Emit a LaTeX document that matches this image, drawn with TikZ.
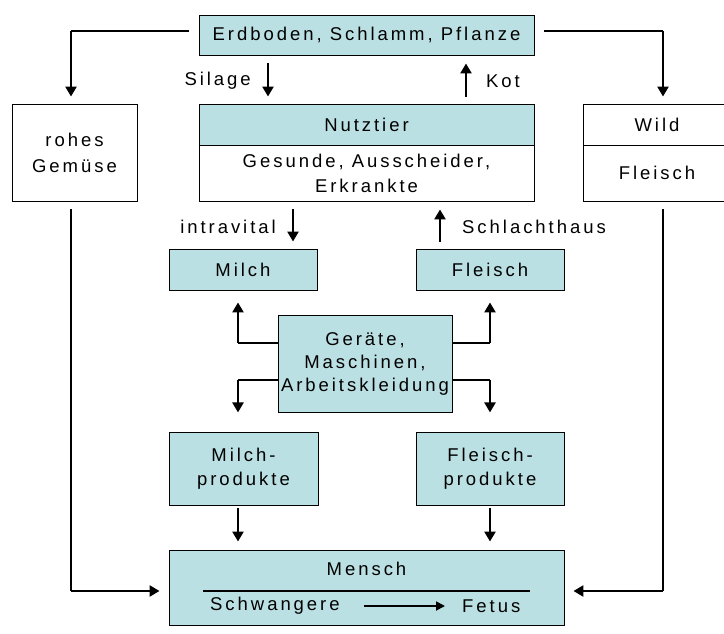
\documentclass[tikz,border=0pt]{standalone}
\usepackage{fontspec}
\setmainfont{Liberation Sans}[LetterSpace=16]
\usetikzlibrary{arrows.meta}
\definecolor{boxfill}{RGB}{187,224,227}
\begin{document}
\begin{tikzpicture}[x=1pt,y=-1pt,
  every node/.style={font=\fontsize{18.5}{24}\selectfont, inner sep=0pt, align=center},
  bx/.style n args={2}{draw=black, line width=0.9pt, fill=boxfill, minimum width=#1, minimum height=#2},
  wbx/.style n args={2}{draw=black, line width=0.9pt, fill=white, minimum width=#1, minimum height=#2},
  thinln/.style={line width=1.4pt},
  arr/.style={line width=2.4pt, -{Triangle[width=11pt,length=10pt]}}]
\useasboundingbox (0,0) rectangle (724,634);
% boxes
\node[bx={335pt}{40pt}] (E) at (366.5,35) {Erdboden, Schlamm, Pflanze};
\node[wbx={125pt}{97pt}, font=\fontsize{18.5}{26}\selectfont] (R) at (74.5,152.5) {rohes\\Gemüse};
\node[bx={335pt}{41pt}] (NT) at (366.5,124.5) {Nutztier};
\node[wbx={335pt}{56pt}, font=\fontsize{18.5}{25}\selectfont] (NB) at (366.5,173) {Gesunde, Ausscheider,\\Erkrankte};
\node[wbx={148pt}{41pt}] (WT) at (657,124.5) {Wild};
\node[wbx={148pt}{56pt}] (WB) at (657,173) {Fleisch};
\node[bx={148pt}{41pt}] (MI) at (243,269.5) {Milch};
\node[bx={148pt}{41pt}] (FL) at (490,269.5) {Fleisch};
\node[bx={174pt}{97pt}, font=\fontsize{18.5}{23}\selectfont] (G) at (365,363.5) {Geräte,\\Maschinen,\\Arbeitskleidung};
\node[bx={149pt}{73pt}] (MP) at (243.5,468.5) {Milch-\\produkte};
\node[bx={148pt}{73pt}] (FP) at (490,468.5) {Fleisch-\\produkte};
\node[bx={395pt}{75pt}] (M) at (366.5,587.5) {};
\node (MT) at (366.5,569) {Mensch};
\node[anchor=west] (SW) at (210,606) {Schwangere};
\node[anchor=west] (FE) at (462,606) {Fetus};
\coordinate (ml1) at (203,591);
\coordinate (ml2) at (530,591);
\draw[line width=1.2pt] (ml1) -- (ml2);
\coordinate (sa1) at (364,606);
\coordinate (sa2) at (445,606);
\draw[line width=1.8pt, -{Triangle[width=9pt,length=9pt]}] (sa1) -- (sa2);
% labels
\node[anchor=east] (lsil) at (251,81) {Silage};
\node[anchor=west] (lkot) at (486,81) {Kot};
\node[anchor=east] (lint) at (276,227) {intravital};
\node[anchor=west] (lsch) at (462,227) {Schlachthaus};
% x positions
\coordinate (xs) at (268,0);
\coordinate (xk) at (466,0);
\coordinate (xi) at (293,0);
\coordinate (xh) at (440,0);
\coordinate (xl) at (238,0);
\coordinate (xr) at (490,0);
% top connectors
\coordinate (e1) at (189,31);
\coordinate (c1) at (71,31);
\draw[thinln] (e1) -- (c1);
\draw[arr, shorten >=7pt] (c1) -- (c1 |- R.north);
\coordinate (e2) at (544,31);
\coordinate (c2) at (663,31);
\draw[thinln] (e2) -- (c2);
\draw[arr, shorten >=7pt] (c2) -- (c2 |- WT.north);
\draw[arr, shorten <=8pt, shorten >=7pt] (E.south -| xs) -- (NT.north -| xs);
\draw[arr, shorten <=7pt, shorten >=8pt] (NT.north -| xk) -- (E.south -| xk);
\draw[arr, shorten <=8pt, shorten >=7pt] (NB.south -| xi) -- (MI.north -| xi);
\draw[arr, shorten <=7pt, shorten >=8pt] (FL.north -| xh) -- (NB.south -| xh);
% Geraete connectors
\coordinate (gl1) at (238,343);
\coordinate (gr1) at (490,343);
\coordinate (gl2) at (238,380);
\coordinate (gr2) at (490,380);
\draw[thinln] (G.west |- gl1) -- (gl1);
\draw[arr, shorten >=12pt] (gl1) -- (gl1 |- MI.south);
\draw[thinln] (G.east |- gr1) -- (gr1);
\draw[arr, shorten >=12pt] (gr1) -- (gr1 |- FL.south);
\draw[thinln] (G.west |- gl2) -- (gl2);
\draw[arr] (gl2) -- (gl2 |- G.south);
\draw[thinln] (G.east |- gr2) -- (gr2);
\draw[arr] (gr2) -- (gr2 |- G.south);
% products to Mensch
\draw[arr, shorten <=3pt, shorten >=8pt] (MP.south -| xl) -- (M.north -| xl);
\draw[arr, shorten <=3pt, shorten >=8pt] (FP.south -| xr) -- (M.north -| xr);
% side connectors
\coordinate (bl) at (71,591);
\coordinate (br) at (663,591);
\draw[thinln, shorten <=8pt] (c1 |- R.south) -- (bl);
\draw[arr, shorten >=9pt] (bl) -- (bl -| M.west);
\draw[thinln, shorten <=8pt] (c2 |- WB.south) -- (br);
\draw[arr, shorten >=9pt] (br) -- (br -| M.east);
\end{tikzpicture}
\end{document}
